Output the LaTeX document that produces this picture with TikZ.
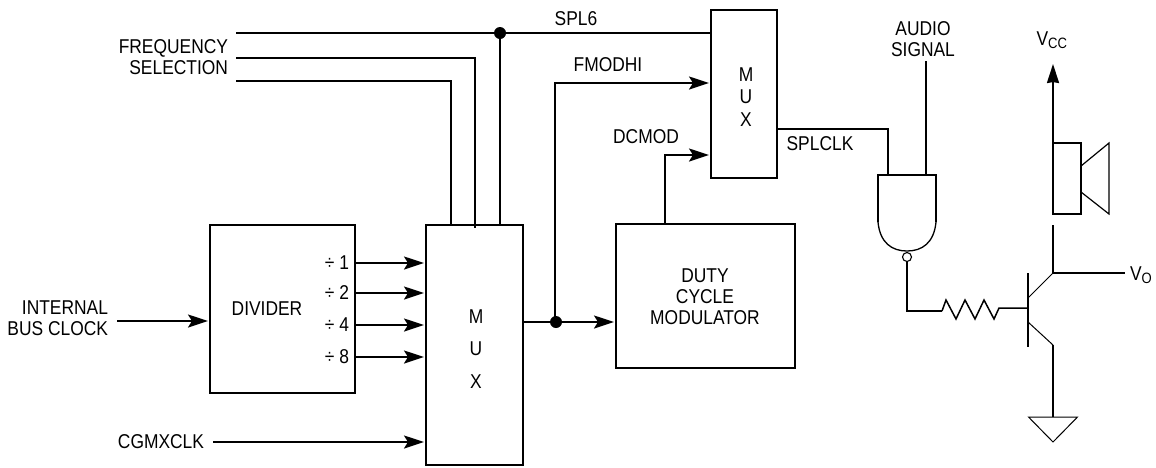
\documentclass[tikz,border=0pt]{standalone}
\usepackage{fontspec}
\setmainfont[FakeStretch=0.87]{Liberation Sans}
\usetikzlibrary{arrows.meta,calc}
\tikzset{
  wire/.style={line width=2pt,line join=miter},
  thin wire/.style={line width=1pt},
  sig/.style={wire,-{Stealth[length=20pt,width=13pt,inset=4pt]},shorten >=2pt},
  block/.style={draw,line width=2pt,rectangle,inner sep=0pt,outer sep=0pt,align=center},
  lbl/.style={inner sep=0pt,outer sep=0pt,align=center,font=\fontsize{20}{21}\selectfont},
  dot/.style={circle,fill=black,inner sep=0pt,outer sep=0pt,minimum size=12pt},
}
\begin{document}
\begin{tikzpicture}[x=1pt,y=-1pt]
\useasboundingbox (0,0) rectangle (1156,467);
% blocks
\node[block,minimum width=145pt,minimum height=168pt] (div) at (282.5,309) {};
\node[block,minimum width=97pt,minimum height=240pt] (mux) at (474.5,345) {};
\node[block,minimum width=179pt,minimum height=144pt] (duty) at (705.5,296) {};
\node[block,minimum width=66pt,minimum height=168pt] (mux2) at (744,94) {};
\node[lbl] (divt) at (267,309) {DIVIDER};
\node[lbl] (muxm) at (476,317) {M};
\node[lbl] (muxu) at (476,349) {U};
\node[lbl] (muxx) at (476,382) {X};
\node[lbl] (mux2m) at (746,75) {M};
\node[lbl] (mux2u) at (746,97) {U};
\node[lbl] (mux2x) at (746,120) {X};
\node[lbl] (dutyt) at (705,297) {DUTY\\CYCLE\\MODULATOR};
% labels
\node[lbl,align=right,anchor=east] (freq) at (228,57) {FREQUENCY\\SELECTION};
\node[lbl,align=right,anchor=east] (ibc) at (108,318.5) {INTERNAL\\BUS CLOCK};
\node[lbl,anchor=east] (cgm) at (204,442) {CGMXCLK};
\node[lbl] (spl6) at (576,19) {SPL6};
\node[lbl] (fmod) at (608,65) {FMODHI};
\node[lbl] (dcm) at (646,137) {DCMOD};
\node[lbl] (splc) at (820,144) {SPLCLK};
\node[lbl] (aud) at (923,39.5) {AUDIO\\SIGNAL};
\node[lbl] (vcc) at (1052,40) {V\textsubscript{\fontsize{15}{15}\selectfont CC}};
\node[lbl,anchor=west] (vo) at (1130,275) {V\textsubscript{\fontsize{15}{15}\selectfont O}};
\node[lbl,anchor=east] (d1) at (349,263) {÷ 1};
\node[lbl,anchor=east] (d2) at (349,293) {÷ 2};
\node[lbl,anchor=east] (d4) at (349,325) {÷ 4};
\node[lbl,anchor=east] (d8) at (349,357) {÷ 8};
% coordinates
\coordinate (a1) at (236,33);
\coordinate (a2) at (236,58);
\coordinate (a3) at (236,81);
\coordinate (b2) at (475,58);
\coordinate (b3) at (451,81);
\coordinate (ib) at (117,321);
\coordinate (cg) at (213,442);
\node[dot] (j1) at (500,33) {};
\node[dot] (j2) at (556,322) {};
\coordinate (f1) at (555,83);
\coordinate (g1) at (665,155);
\coordinate (s1) at (888,129);
% divider outputs
\draw[sig] (div.east |- d1) -- (mux.west |- d1);
\draw[sig] (div.east |- d2) -- (mux.west |- d2);
\draw[sig] (div.east |- d4) -- (mux.west |- d4);
\draw[sig] (div.east |- d8) -- (mux.west |- d8);
\draw[sig] (ib) -- (div.west |- ib);
\draw[sig] (cg) -- (mux.west |- cg);
% top wires
\draw[wire] (a1) -- (j1) -- (mux2.west |- j1);
\draw[wire] (j1) -- (j1 |- mux.north);
\draw[wire] (a2) -- (b2) -- (475,228);
\draw[wire] (a3) -- (b3) -- (b3 |- mux.north);
% mux out
\draw[wire] (mux.east |- j2) -- (j2);
\draw[sig] (j2) -- (duty.west |- j2);
\draw[sig] (555,322) -- (f1) -- (mux2.west |- f1);
\draw[sig] (g1 |- duty.north) -- (g1) -- (mux2.west |- g1);
% gate
\coordinate (gtl) at (878,175);
\coordinate (gtr) at (936,175);
\draw[wire] (mux2.east |- s1) -- (s1) -- (s1 |- gtl);
\coordinate (au) at (926,61);
\draw[wire] (au) -- (au |- gtl);
\draw[wire] (878,222) -- (gtl) -- (gtr) -- (936,222);
\draw[line width=1.3pt] (878,222) .. controls (880,243) and (892,251) .. (907,251) .. controls (922,251) and (934,243) .. (936,222);
\node[circle,draw,line width=1.1pt,fill=white,inner sep=0pt,outer sep=0pt,minimum size=9pt] (bub) at (907,257) {};
% resistor to base
\coordinate (t) at (1028,308);
\draw[wire] (bub.south) -- (907,311) -- (942,311);
\draw[line width=1.5pt,line join=miter] (942,311) -- (946,300) -- (956,319) -- (965,300) -- (975,319) -- (984,300) -- (994,319) -- (999,308) -- (t);
\coordinate (bt) at (1028,273);
\coordinate (bb) at (1028,347);
\draw[wire] (bt) -- (bb);
% transistor
\coordinate (c) at (1053,273);
\coordinate (e) at (1053,345);
\draw[thin wire] (1028,298) -- (c);
\draw[thin wire] (1028,322) -- (e);
\draw[wire] (1053,225) -- (c);
\coordinate (vot) at (1125,273);
\draw[wire] (c) -- (vot);
\coordinate (g) at (1053,417);
\draw[wire] (e) -- (g);
\draw[thin wire,line join=miter] (1028.5,417) -- (1077.5,417) -- (1053,442) -- cycle;
% speaker
\node[block,minimum width=28pt,minimum height=71pt] (spk) at (1067,178.5) {};
\draw[line width=1.2pt] (1081,166) -- (1109,143) -- (1109,214) -- (1081,192);
\coordinate (vt) at (1053,64);
\draw[wire,-{Stealth[length=19pt,width=12pt,inset=1pt]}] (spk.north west) -- (vt);
\end{tikzpicture}
\end{document}
